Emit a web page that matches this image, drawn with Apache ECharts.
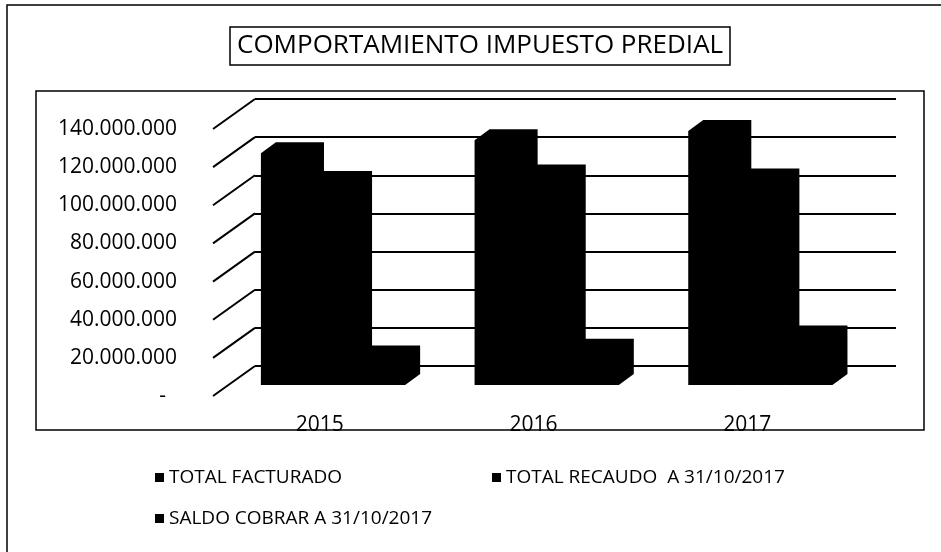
<!DOCTYPE html>
<html>
<head>
<meta charset="utf-8">
<script src="https://cdn.jsdelivr.net/npm/echarts@6/dist/echarts.min.js"></script>
<style>
    html, body { margin: 0; padding: 0; background: #fff; }
    #chart { width: 941px; height: 552px; }
</style>
</head>
<body>
<div id="chart"></div>
<script>
    // datos
    var years = ['2015', '2016', '2017'];
    var totalFacturado = [121500000, 128300000, 133200000];
    var totalRecaudo = [106500000, 109800000, 107800000];
    var saldoCobrar = [15000000, 18500000, 25400000];
    var seriesNames = ['TOTAL FACTURADO', 'TOTAL RECAUDO  A 31/10/2017', 'SALDO COBRAR A 31/10/2017'];
    var yTicks = [0, 20000000, 40000000, 60000000, 80000000, 100000000, 120000000, 140000000];

    // efecto 3D: desplazamiento de la pared del fondo y de las columnas
    var WALL_DX = 42, WALL_DY = -30;
    var CUBE_DX = 15, CUBE_DY = -11;
    var BAR_START = -0.346, BAR_W = 0.225;
    var FONT = 'Open Sans';

    function fmt(v) {
        if (v === 0) return '-  ';
        return String(v).replace(/\B(?=(\d{3})+(?!\d))/g, '.');
    }

    function barRenderer(slot) {
        return function (params, api) {
            let i = api.value(0);
            let base = api.coord([i, 0]);
            let top = api.coord([i, api.value(1)]);
            let band = api.size([1, 0])[0];
            let x0 = base[0] + band * (BAR_START + slot * BAR_W);
            let x1 = x0 + band * BAR_W;
            return {
                type: 'polygon',
                shape: {
                    points: [
                        [x0, base[1]], [x0, top[1]],
                        [x0 + CUBE_DX, top[1] + CUBE_DY], [x1 + CUBE_DX, top[1] + CUBE_DY],
                        [x1 + CUBE_DX, base[1] + CUBE_DY], [x1, base[1]]
                    ]
                },
                style: api.style()
            };
        };
    }

    function pairs(arr) {
        return arr.map(function (v, i) { return [i, v]; });
    }

    let chart = echarts.init(document.getElementById('chart'));

    let valueAxis = { type: 'value', min: 0, max: 140000000, interval: 20000000 };
    let legendText = { fontFamily: FONT, fontSize: 19, color: '#000' };

    let option = {
        backgroundColor: '#fff',
        animation: false,
        title: {
            text: 'COMPORTAMIENTO IMPUESTO PREDIAL',
            left: 230, top: 27,
            padding: [6, 7],
            borderColor: '#000', borderWidth: 1.5,
            textStyle: { fontFamily: FONT, fontSize: 26, fontWeight: 'normal', color: '#000' }
        },
        legend: [{
            left: 155, top: 468, orient: 'vertical', itemGap: 22, padding: 0,
            icon: 'rect', itemWidth: 9, itemHeight: 9,
            data: [seriesNames[0], seriesNames[2]],
            textStyle: legendText
        }, {
            left: 492, top: 468, padding: 0,
            icon: 'rect', itemWidth: 9, itemHeight: 9,
            data: [seriesNames[1]],
            textStyle: legendText
        }],
        grid: [
            { left: 213, right: 87, top: 129, bottom: 156 },  // plano frontal (etiquetas)
            { left: 255, right: 45, top: 99, bottom: 186 },   // pared del fondo
            { left: 228, right: 72, top: 118, bottom: 167 }   // plano de columnas
        ],
        xAxis: [
            {
                gridIndex: 0, type: 'category', data: years,
                axisLine: { show: false }, axisTick: { show: false },
                axisLabel: { margin: 19, color: '#000', fontFamily: FONT, fontSize: 21 }
            },
            { gridIndex: 0, type: 'value', min: 0, max: 1, show: false },
            { gridIndex: 1, type: 'category', data: years, show: false },
            { gridIndex: 2, type: 'category', data: years, show: false }
        ],
        yAxis: [
            Object.assign({}, valueAxis, {
                gridIndex: 0,
                axisLine: { show: false }, axisTick: { show: false }, splitLine: { show: false },
                axisLabel: { margin: 36, color: '#000', fontFamily: FONT, fontSize: 21, formatter: fmt }
            }),
            Object.assign({}, valueAxis, {
                gridIndex: 1,
                axisLine: { show: false }, axisTick: { show: false }, axisLabel: { show: false },
                splitLine: { show: true, lineStyle: { color: '#000', width: 2 } }
            }),
            Object.assign({}, valueAxis, { gridIndex: 2, show: false })
        ],
        series: [
            {
                // lineas diagonales de la pared lateral
                name: 'walls', type: 'custom', silent: true,
                xAxisIndex: 1, yAxisIndex: 0,
                data: yTicks.map(function (v) { return [0, v]; }),
                renderItem: function (params, api) {
                    let p = api.coord([0, api.value(1)]);
                    return {
                        type: 'line',
                        shape: { x1: p[0], y1: p[1], x2: p[0] + WALL_DX, y2: p[1] + WALL_DY },
                        style: { stroke: '#000', lineWidth: 2 }
                    };
                }
            },
            {
                name: seriesNames[0], type: 'custom', xAxisIndex: 3, yAxisIndex: 2,
                itemStyle: { color: '#000' },
                data: pairs(totalFacturado), renderItem: barRenderer(0)
            },
            {
                name: seriesNames[1], type: 'custom', xAxisIndex: 3, yAxisIndex: 2,
                itemStyle: { color: '#000' },
                data: pairs(totalRecaudo), renderItem: barRenderer(1)
            },
            {
                name: seriesNames[2], type: 'custom', xAxisIndex: 3, yAxisIndex: 2,
                itemStyle: { color: '#000' },
                data: pairs(saldoCobrar), renderItem: barRenderer(2)
            }
        ],
        graphic: [
            { type: 'rect', z: 100, shape: { x: 7, y: 5, width: 960, height: 600 },
              style: { fill: 'none', stroke: '#000', lineWidth: 1.5 } },
            { type: 'rect', z: 100, shape: { x: 36, y: 91, width: 888, height: 339 },
              style: { fill: 'none', stroke: '#000', lineWidth: 1.5 } }
        ]
    };

    chart.setOption(option);
</script>
</body>
</html>
